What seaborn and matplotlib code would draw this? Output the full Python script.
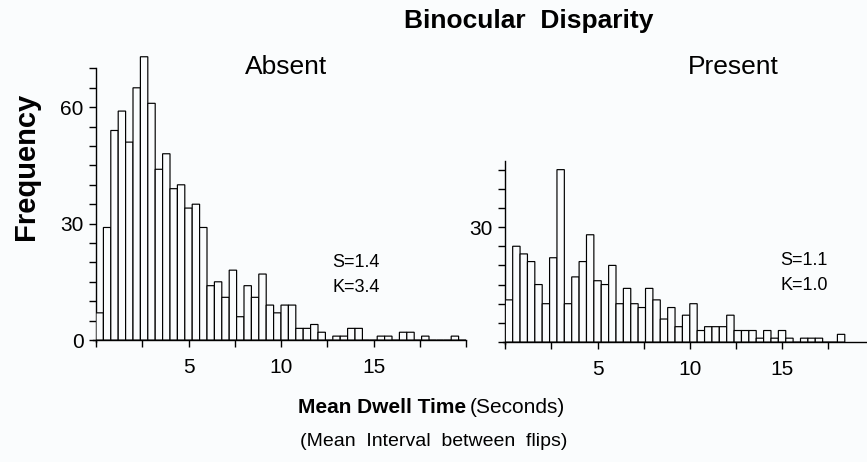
import numpy as np
import pandas as pd
import matplotlib
matplotlib.use("Agg")
import matplotlib.pyplot as plt
import seaborn as sns

# counts per 0.4 s bin (left to right)
absent_counts = [7, 29, 54, 59, 51, 65, 73, 61, 44, 48,
                 39, 40, 34, 35, 29, 14, 15, 11, 18, 6,
                 14, 11, 17, 9, 7, 9, 9, 3, 3, 4,
                 2, 0, 1, 1, 3, 3, 0, 0, 1, 1,
                 0, 2, 2, 0, 1, 0, 0, 0, 1, 0]
present_counts = [11, 25, 23, 21, 15, 10, 22, 45, 10, 17,
                  21, 28, 16, 15, 20, 10, 14, 10, 9, 14,
                  11, 6, 9, 4, 7, 10, 3, 4, 4, 4,
                  7, 3, 3, 3, 1, 3, 1, 3, 1, 0,
                  1, 1, 1, 0, 0, 2]
bin_width = 0.4
panel_names = ["Absent", "Present"]
skew_labels = ["S=1.4", "S=1.1"]
kurt_labels = ["K=3.4", "K=1.0"]
x_ticks = [0, 2.5, 5, 7.5, 10, 12.5, 15, 17.5, 20]
x_ticklabels = ["", "", "5", "", "10", "", "15", "", ""]

W, H = 867, 462
BG = "#fafcfd"

sns.set_style("ticks")
plt.rcParams["font.family"] = ["Liberation Sans", "DejaVu Sans"]
plt.rcParams["axes.edgecolor"] = "black"
plt.rcParams["axes.linewidth"] = 1.0
plt.rcParams["text.color"] = "black"
plt.rcParams["xtick.color"] = "black"
plt.rcParams["ytick.color"] = "black"

fig = plt.figure(figsize=(W / 100, H / 100), dpi=100, facecolor=BG)


def px(x, y):
    return x / W, 1 - y / H


def draw_hist(ax, counts, ymax, yticks, ylabels, spine_top):
    df = pd.DataFrame({"dwell": (np.arange(len(counts)) + 0.5) * bin_width,
                       "count": counts})
    sns.histplot(data=df, x="dwell", weights="count", binwidth=bin_width,
                 binrange=(0, len(counts) * bin_width), color=BG,
                 edgecolor="black", linewidth=0.85, alpha=1, snap=False, ax=ax)
    ax.set_facecolor("none")
    ax.set_xlim(0, 20)
    ax.set_ylim(0, ymax)
    ax.set_xlabel("")
    ax.set_ylabel("")
    ax.set_xticks(x_ticks)
    ax.set_xticklabels(x_ticklabels)
    ax.set_yticks(yticks)
    ax.set_yticklabels(ylabels)
    ax.tick_params(axis="x", direction="out", length=5, width=1,
                   labelsize=15, pad=8, colors="black")
    ax.tick_params(axis="y", direction="out", length=5, width=1,
                   labelsize=15, pad=4, colors="black")
    sns.despine(ax=ax)
    ax.spines["left"].set_bounds(-0.5, spine_top)
    ax.spines["bottom"].set_bounds(-0.15, 20)
    for s in ax.spines.values():
        s.set_zorder(0.5)


# Absent panel
ax1 = fig.add_axes([96 / W, 122 / H, 370 / W, 76 * 3.88 / H])
draw_hist(ax1, absent_counts, 76, list(range(0, 71, 5)),
          ["0", "", "", "", "", "", "30", "", "", "", "", "", "60", "", ""], 70)

# Present panel (x axis runs off the right edge of the figure)
ax2 = fig.add_axes([505.3 / W, 120 / H, 20 * 18.45 / W, 48 * 3.83 / H])
draw_hist(ax2, present_counts, 48, list(range(0, 46, 5)),
          ["", "", "", "", "", "", "30", "", "", ""], 47.3)

# text
fig.text(*px(529, 28), "Binocular  Disparity", ha="center", va="baseline",
         fontsize=19, fontweight="bold")
fig.text(*px(286, 74), panel_names[0], ha="center", va="baseline", fontsize=19)
fig.text(*px(733, 74), panel_names[1], ha="center", va="baseline", fontsize=19)
fig.text(*px(26, 166), "Frequency", ha="center", va="center", rotation=90,
         fontsize=21, fontweight="bold")

fig.text(*px(332, 267), skew_labels[0], ha="left", va="baseline", fontsize=13)
fig.text(*px(332, 292), kurt_labels[0], ha="left", va="baseline", fontsize=13)
fig.text(*px(780, 265), skew_labels[1], ha="left", va="baseline", fontsize=13)
fig.text(*px(780, 290), kurt_labels[1], ha="left", va="baseline", fontsize=13)

fig.text(*px(298, 413), "Mean Dwell Time", ha="left", va="baseline",
         fontsize=15, fontweight="bold")
fig.text(*px(470, 413), "(Seconds)", ha="left", va="baseline", fontsize=15)
fig.text(*px(434, 446), "(Mean  Interval  between  flips)", ha="center",
         va="baseline", fontsize=14)

fig.savefig("out.png", dpi=100, facecolor=BG)
